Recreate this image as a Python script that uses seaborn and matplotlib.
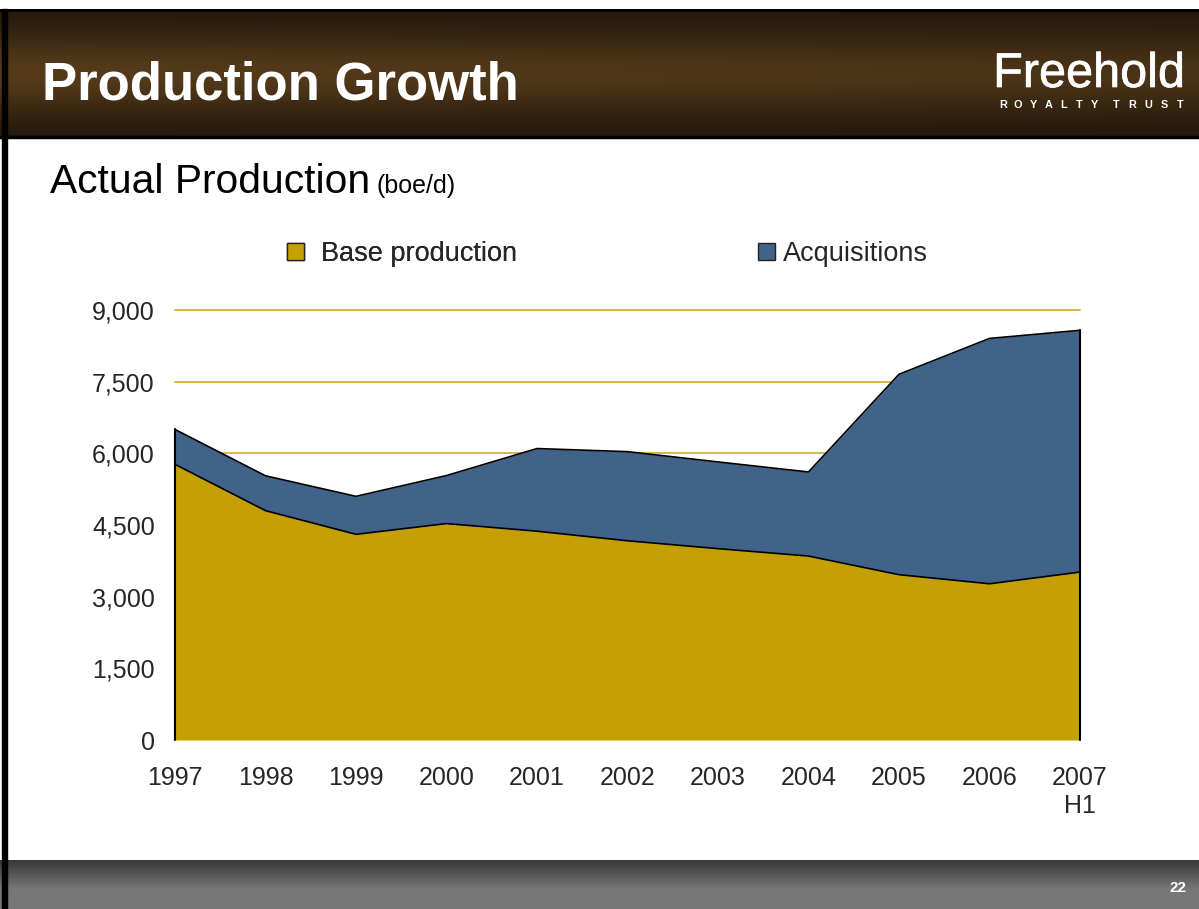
import numpy as np
import pandas as pd
import matplotlib
matplotlib.use("Agg")
import matplotlib.pyplot as plt
from matplotlib.patches import Rectangle
import matplotlib.patheffects as pe
import seaborn as sns

# ---- data (boe/d) ----
years = [1997, 1998, 1999, 2000, 2001, 2002, 2003, 2004, 2005, 2006, 2007]
year_labels = ["1997", "1998", "1999", "2000", "2001", "2002", "2003", "2004", "2005", "2006", "2007\nH1"]
base_production = [5770, 4800, 4305, 4530, 4370, 4170, 4005, 3850, 3460, 3270, 3515]
acquisitions = [730, 730, 795, 1005, 1730, 1865, 1815, 1760, 4195, 5135, 5060]
y_ticks = [0, 1500, 3000, 4500, 6000, 7500, 9000]
series_names = ["Base production", "Acquisitions"]

df = pd.DataFrame({"year": years, "base": base_production, "acq": acquisitions})
df["total"] = df["base"] + df["acq"]

GOLD = "#C4A003"
BLUE = "#426389"
GRID = "#D2B23A"

sns.set_theme(style="white")
plt.rcParams["font.family"] = ["Liberation Sans", "DejaVu Sans"]

W, H = 1199, 909
fig = plt.figure(figsize=(W / 100, H / 100), dpi=100)
fig.patch.set_facecolor("white")

# ---- background / slide decoration ----
bg = fig.add_axes([0, 0, 1, 1], zorder=-5)
bg.set_xlim(0, W)
bg.set_ylim(H, 0)
bg.axis("off")

# header gradient (brown)
hy = np.linspace(0, 1, 128)
prof = np.exp(-((hy - 0.5) / 0.32) ** 2)
dark = np.array([0x22, 0x17, 0x0A]) / 255
light = np.array([0x56, 0x3B, 0x1B]) / 255
hx = np.linspace(0, 1, 300)
hfac = 1.0 - 0.25 * hx
img = dark[None, None, :] + (light - dark)[None, None, :] * (prof[:, None, None] * hfac[None, :, None])
bg.imshow(img, extent=[0, W, 138, 9], aspect="auto", interpolation="bilinear", zorder=0)
bg.plot([0, W], [9.5, 9.5], color="black", lw=2, zorder=1)
bg.plot([0, W], [137, 137], color="black", lw=2.5, zorder=1)

# footer gradient (gray)
fy = np.linspace(0, 1, 64)
g0 = np.array([0x38, 0x38, 0x38]) / 255
g1 = np.array([0x78, 0x78, 0x78]) / 255
t = np.clip(fy / 0.6, 0, 1)[:, None, None]
fimg = g0 + (g1 - g0) * t
fimg = np.repeat(fimg, 10, axis=1)
bg.imshow(fimg, extent=[0, W, H, 860], aspect="auto", interpolation="bilinear", zorder=0)

# left black border
bg.add_patch(Rectangle((2, 9), 5, H - 9, color="black", zorder=2))

# header texts
bg.text(42, 100, "Production Growth", color="white", fontsize=38, fontweight="bold",
        va="baseline", ha="left", zorder=3)
bg.text(1185, 87, "Freehold", color="white", fontsize=35, va="baseline", ha="right", zorder=3,
        path_effects=[pe.withStroke(linewidth=0.5, foreground="white")])
sub_letters = list("ROYALTY") + list("TRUST")
sub_x = [1003 + 15.2 * i for i in range(7)] + [1116 + 16 * i for i in range(5)]
for ch, xx in zip(sub_letters, sub_x):
    bg.text(xx, 108, ch, color="white", fontsize=7.8, fontweight="bold",
            va="baseline", ha="center", zorder=3)
bg.text(1186, 892, "22", color="white", fontsize=11, fontweight="bold", va="baseline", ha="right", zorder=3)

# subtitle
bg.text(50, 193, "Actual Production", color="black", fontsize=29.3, va="baseline", ha="left")
bg.text(377, 193, "(boe/d)", color="black", fontsize=18, va="baseline", ha="left")

# ---- chart ----
ax = fig.add_axes([175 / W, 1 - 740 / H, 905 / W, 430 / H])
ax.set_facecolor("none")
for y in y_ticks[1:]:
    ax.axhline(y, color=GRID, lw=1.3, zorder=0)

ax.fill_between(df["year"], 0, df["base"], color=GOLD, lw=0, zorder=1)
ax.fill_between(df["year"], df["base"], df["total"], color=BLUE, lw=0, zorder=1)
sns.lineplot(data=df, x="year", y="base", color="black", lw=1.2, ax=ax, zorder=2)
sns.lineplot(data=df, x="year", y="total", color="black", lw=1.2, ax=ax, zorder=2)
ax.plot([years[0], years[0]], [0, df["total"].iloc[0]], color="black", lw=1.5, zorder=2)
ax.plot([years[-1], years[-1]], [0, df["total"].iloc[-1]], color="black", lw=1.5, zorder=2)
for ln in ax.lines:
    ln.set_clip_on(False)

ax.set_xlim(years[0], years[-1])
ax.set_ylim(0, 9000)
ax.set_xticks(years)
ax.set_xticklabels(year_labels, fontsize=18)
ax.set_yticks(y_ticks)
ax.set_yticklabels([f"{v:,}" for v in y_ticks], fontsize=18)
ax.tick_params(axis="y", length=0, pad=14.5)
ax.tick_params(axis="x", length=0, pad=19)
ax.set_xlabel("")
ax.set_ylabel("")
for s in ax.spines.values():
    s.set_visible(False)
ax.grid(False)

common = dict(frameon=False, fontsize=19.5, handlelength=0.62, handleheight=0.62,
              borderpad=0, borderaxespad=0, loc="center left")
h_base = Rectangle((0, 0), 1, 1, facecolor=GOLD, edgecolor="#222222", lw=1)
h_acq = Rectangle((0, 0), 1, 1, facecolor=BLUE, edgecolor="#222222", lw=1)
leg1 = fig.legend([h_base], [series_names[0]], bbox_to_anchor=(287 / W, 1 - 254 / H),
                  handletextpad=0.62, **common)
fig.add_artist(leg1)
fig.legend([h_acq], [series_names[1]], bbox_to_anchor=(758 / W, 1 - 254 / H),
           handletextpad=0.3, **common)

fig.savefig("out.png", dpi=100)
